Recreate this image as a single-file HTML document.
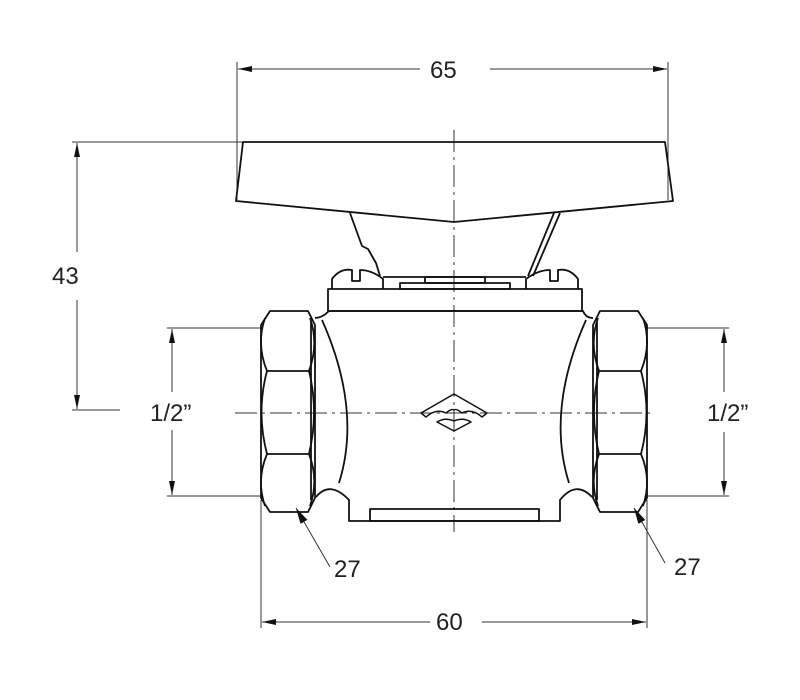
<!DOCTYPE html>
<html><head><style>body{margin:0;background:#fff}svg{display:block}text{font-family:"Liberation Sans",sans-serif;font-size:24px;fill:#222}</style></head><body>
<svg width="800" height="700" viewBox="0 0 800 700" xmlns="http://www.w3.org/2000/svg">
<defs><marker id="a" viewBox="0 0 14 6" refX="14" refY="3" markerWidth="14" markerHeight="6" orient="auto-start-reverse" markerUnits="userSpaceOnUse"><path d="M0,0L14,3L0,6z" fill="#111"/></marker>
<marker id="b" viewBox="0 0 16 8" refX="16" refY="4" markerWidth="16" markerHeight="8" orient="auto" markerUnits="userSpaceOnUse"><path d="M0,0L16,4L0,8z" fill="#111"/></marker></defs>
<g stroke="#333" stroke-width="1" fill="none">
<line x1="237" y1="62" x2="237" y2="200"/><line x1="668" y1="62" x2="668" y2="200"/>
<line x1="238" y1="69" x2="420" y2="69" marker-start="url(#a)"/><line x1="490" y1="69" x2="667" y2="69" marker-end="url(#a)"/>
<line x1="72" y1="142" x2="243" y2="142"/><line x1="72" y1="410" x2="120" y2="410"/>
<line x1="77" y1="143" x2="77" y2="252" marker-start="url(#a)"/><line x1="77" y1="300" x2="77" y2="409" marker-end="url(#a)"/>
<line x1="167" y1="328" x2="262" y2="328"/><line x1="167" y1="496" x2="262" y2="496"/>
<line x1="172" y1="329" x2="172" y2="392" marker-start="url(#a)"/><line x1="172" y1="430" x2="172" y2="495" marker-end="url(#a)"/>
<line x1="647" y1="328" x2="729" y2="328"/><line x1="647" y1="496" x2="729" y2="496"/>
<line x1="724" y1="329" x2="724" y2="392" marker-start="url(#a)"/><line x1="724" y1="432" x2="724" y2="495" marker-end="url(#a)"/>
<line x1="261" y1="500" x2="261" y2="628"/><line x1="647" y1="500" x2="647" y2="628"/>
<line x1="262" y1="622" x2="430" y2="622" marker-start="url(#a)"/><line x1="482" y1="622" x2="646" y2="622" marker-end="url(#a)"/>
<line x1="330" y1="567" x2="296" y2="508" marker-end="url(#b)"/>
<line x1="665" y1="563" x2="634" y2="508" marker-end="url(#b)"/>
<line x1="454" y1="130" x2="454" y2="532" stroke-dasharray="22,5,3,5"/>
<line x1="235" y1="413" x2="650" y2="413" stroke-dasharray="22,5,3,5"/>
</g>
<g stroke="#111" stroke-width="1.8" fill="none" stroke-linejoin="round">
<path d="M243,142L665,142L673,201L454,222L236,201Z"/>
<path d="M350,213L362,246L368,249L376,263L380,276"/>
<path d="M560,213L533,276M554,213L528,276"/>
<rect x="328" y="289" width="254" height="22"/>
<path d="M332,289V279Q340,268 352,270V281H360V270Q372,270 383,279V289"/>
<path d="M578,289V279Q570,268 558,270V281H550V270Q538,270 526,279V289"/>
<path d="M383,277H526"/>
<rect x="400" y="283" width="110" height="6"/><rect x="425" y="277" width="60" height="6"/>
<g id="h">
<path d="M270,311H308L315,325V498L308,512H270L261,498V325Z"/>
<line x1="311" y1="322" x2="311" y2="500"/>
<path d="M267,371H309M267,454H309"/>
<path d="M265,318Q256,344 267,371Q256,412 267,454Q256,480 265,506"/>
<path d="M310,318Q319,344 309,371Q319,412 309,454Q319,480 310,506"/>
</g>
<use href="#h" transform="translate(908,0) scale(-1,1)"/>
<path d="M315,318Q322,318 329,311H583Q586,318 593,318"/>
<path d="M322,320Q362,410 339,483"/>
<path d="M586,320Q546,410 569,483"/>
<path d="M316,497Q330,480 349,500V521H560V500Q576,480 592,497"/>
<rect x="370" y="509" width="169" height="12"/>
<path d="M421,413L454,394L487,413L482,417Q472,408 462,413Q456,408 454,410Q452,408 446,413Q436,408 426,417Z" stroke-width="1.5"/>
<path d="M437,422L454,431L471,422Q463,417 454,421Q445,417 437,422Z" stroke-width="1.5"/>
</g>
<text x="430" y="78">65</text>
<text x="52" y="284">43</text>
<text x="150" y="421">1/2”</text>
<text x="707" y="421">1/2”</text>
<text x="334" y="577">27</text>
<text x="674" y="575">27</text>
<text x="436" y="630">60</text>
</svg>
</body></html>
